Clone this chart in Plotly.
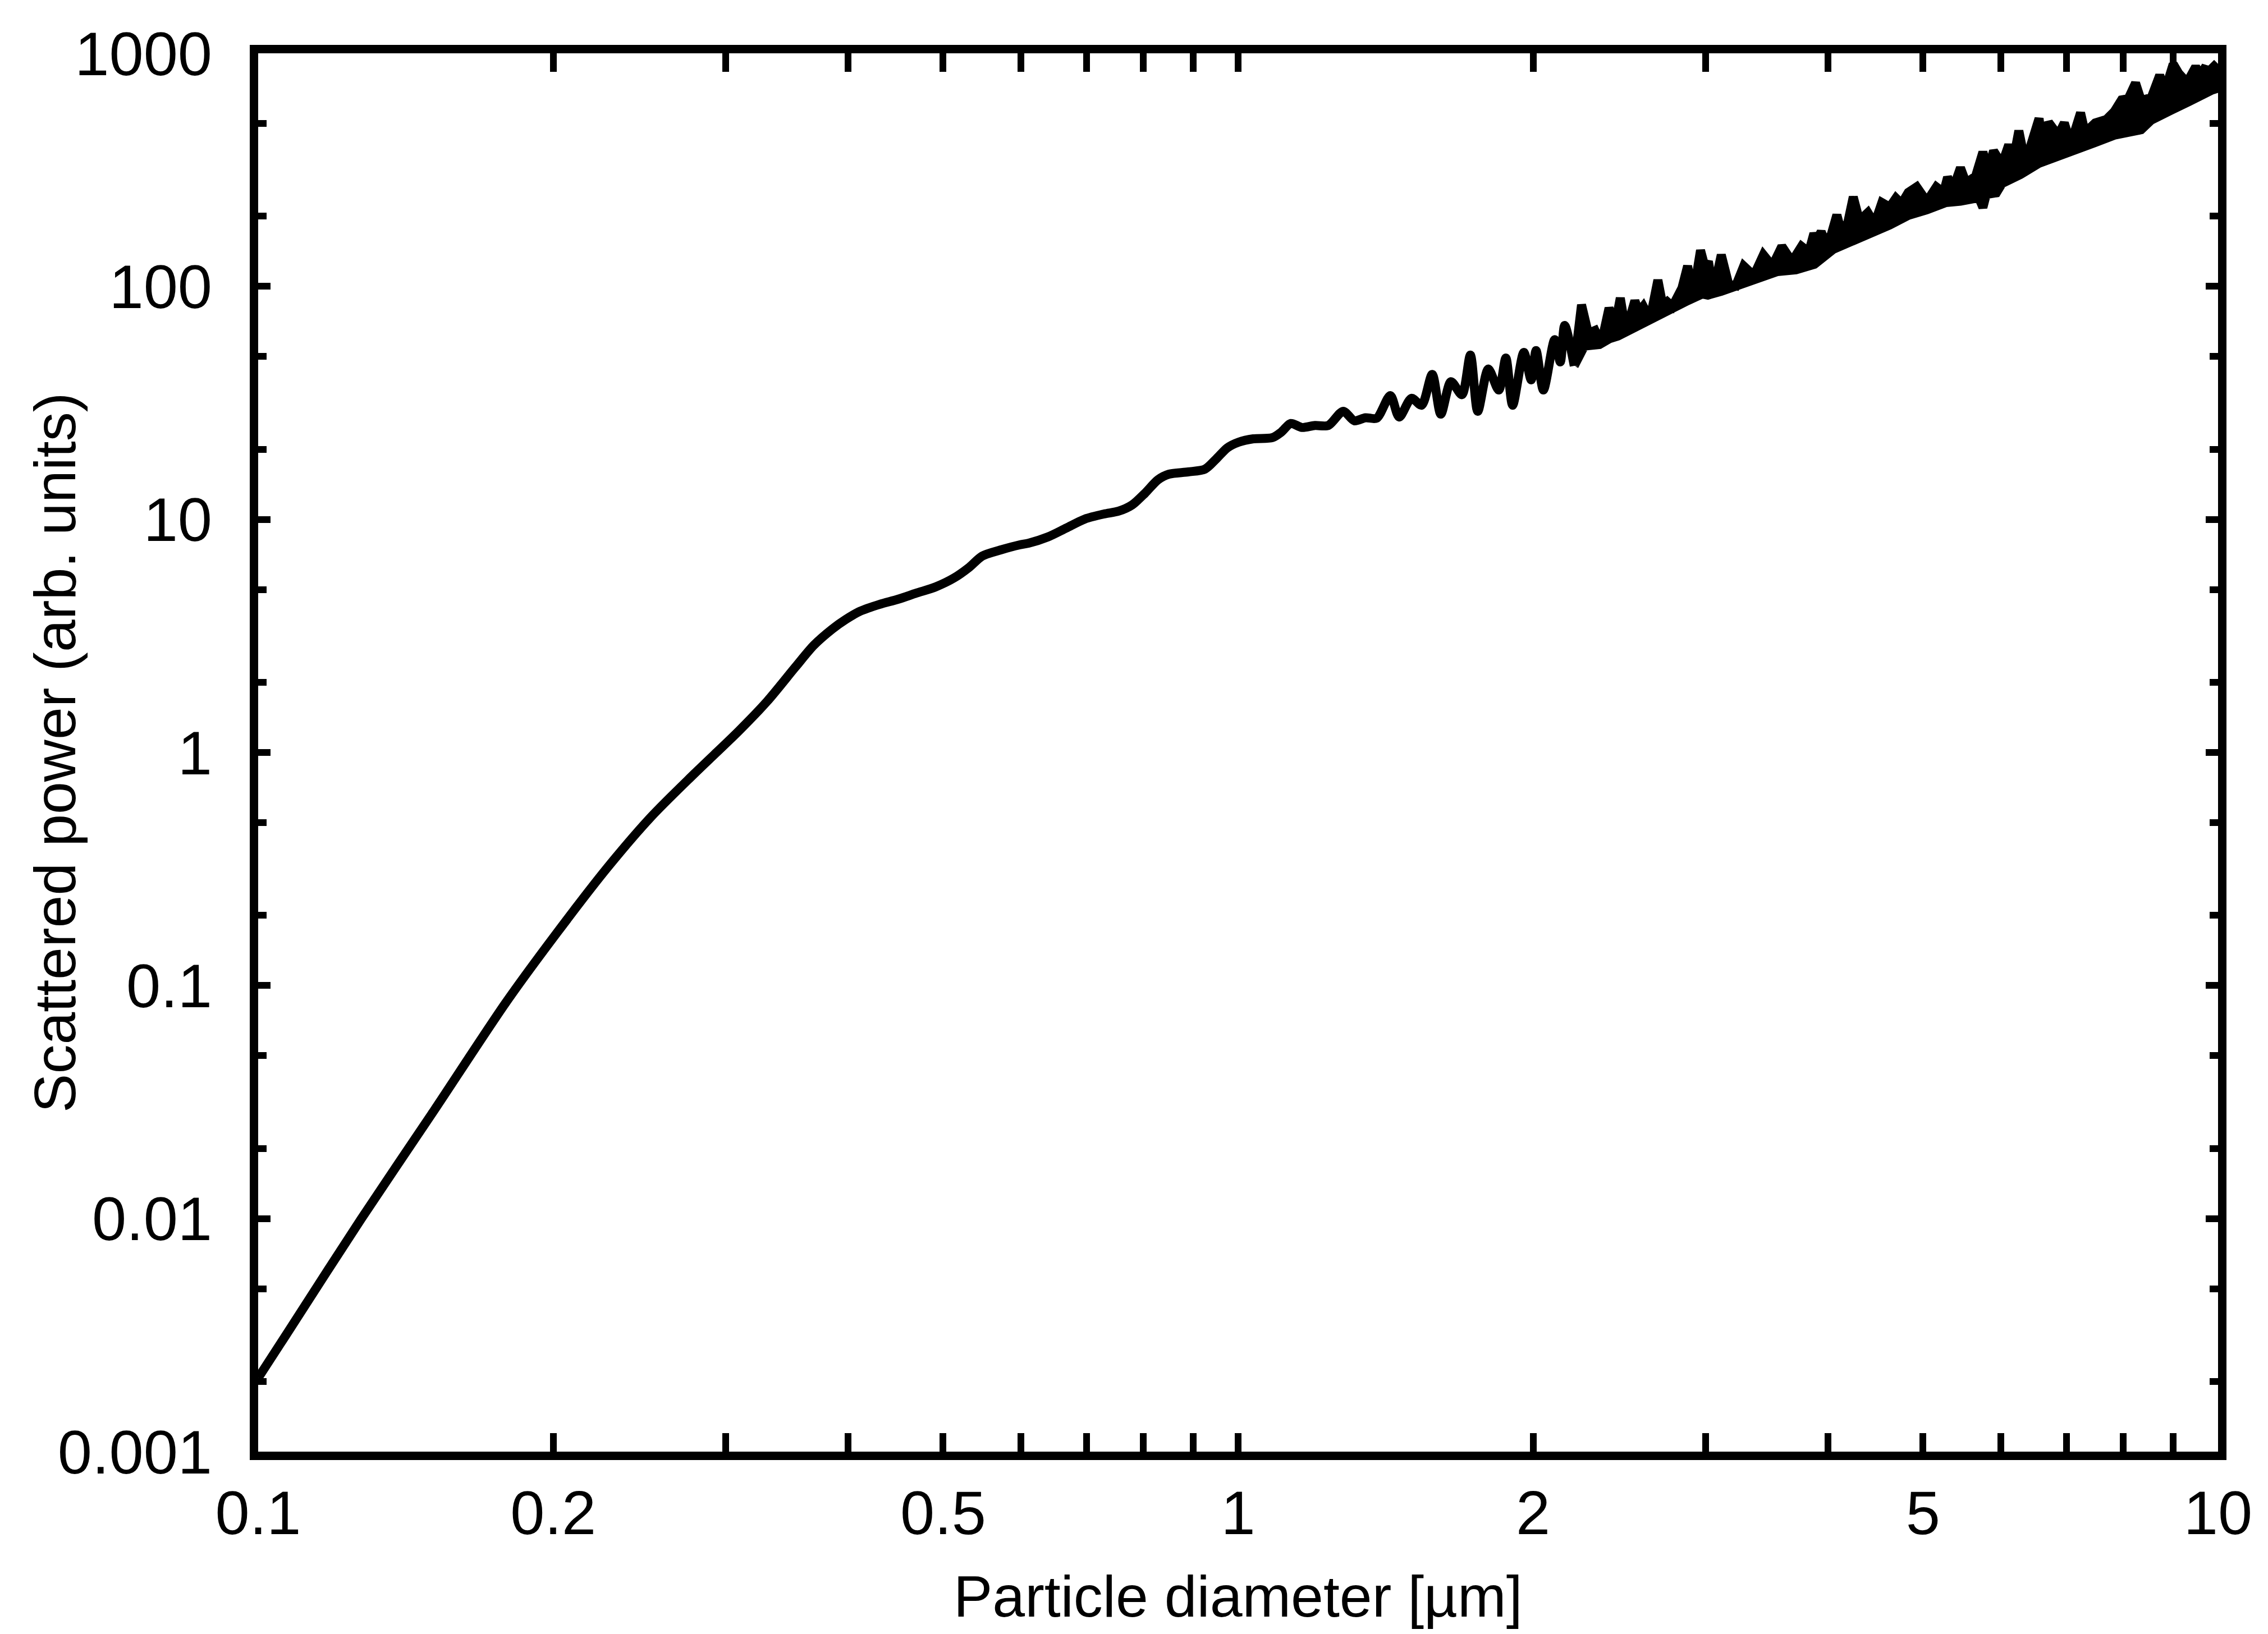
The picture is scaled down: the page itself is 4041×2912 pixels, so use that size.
import plotly.graph_objects as go

# ---- main curve, diameter in µm, power in arb. units
diameter = [0.1, 0.1075, 0.1274, 0.1511, 0.1791, 0.2017, 0.2271, 0.2517, 0.2786,
            0.3096, 0.3306, 0.3533, 0.3690, 0.3854, 0.3977, 0.4117, 0.4306, 0.4496,
            0.4696, 0.4912, 0.5131, 0.5317, 0.5481, 0.5725, 0.5986, 0.6113, 0.6393,
            0.6679, 0.6977, 0.7296, 0.7551, 0.7793, 0.8035, 0.8284, 0.8502, 0.8892,
            0.9252, 0.9498, 0.9752, 1.0013, 1.0363, 1.0838, 1.1068, 1.1318, 1.162,
            1.198, 1.236, 1.280, 1.314, 1.349, 1.385, 1.430, 1.460, 1.503, 1.539,
            1.578, 1.610, 1.649, 1.692, 1.726, 1.756, 1.800, 1.845, 1.876, 1.906,
            1.957, 1.991, 2.014, 2.049, 2.104, 2.132, 2.154, 2.203]
power = [0.00207, 0.00331, 0.00998, 0.0290, 0.0849, 0.168, 0.320, 0.529, 0.81,
         1.241, 1.656, 2.323, 2.884, 3.386, 3.721, 4.043, 4.321, 4.543,
         4.829, 5.132, 5.609, 6.231, 6.961, 7.399, 7.779, 7.909, 8.406,
         9.187, 10.04, 10.55, 10.85, 11.53, 12.96, 14.80, 15.64, 15.99,
         16.44, 18.17, 20.30, 21.46, 22.18, 22.43, 23.70, 25.8, 24.8,
         25.3, 25.3, 29.1, 26.5, 27.3, 27.2, 34.0, 27.5, 33.1, 30.9,
         41.9, 28.3, 39.0, 34.3, 50.7, 29.1, 44.2, 35.9, 49.3, 30.9,
         52.1, 39.7, 53.0, 35.9, 59.1, 47.4, 68.0, 45.6]

# ---- dense ripple region: upper envelope (with spikes) and lower envelope
upper_d = [2.2029, 2.2410, 2.2768, 2.3132, 2.3470, 2.3907, 2.4257, 2.4547, 2.4872,
           2.5402, 2.5638, 2.5910, 2.6324, 2.6814, 2.7134, 2.7422, 2.7749, 2.8378,
           2.8755, 2.9136, 2.9640, 2.9954, 3.0192, 3.0553, 3.1121, 3.1659, 3.2206,
           3.2807, 3.3595, 3.4357, 3.5089, 3.5884, 3.6745, 3.7578, 3.8228, 3.8685,
           3.8940, 3.9353, 3.9770, 4.0298, 4.0833, 4.1211, 4.1879, 4.2437, 4.3056,
           4.3916, 4.4617, 4.5389, 4.6235, 4.6910, 4.7532, 4.8292, 4.9257, 5.0441,
           5.1584, 5.2476, 5.2963, 5.3665, 5.4594, 5.5318, 5.6571, 5.7550, 5.8236,
           5.9010, 6.0189, 6.1150, 6.1799, 6.2619, 6.3283, 6.4293, 6.5665, 6.6273,
           6.7152, 6.8675, 6.9677, 7.0508, 7.1445, 7.2394, 7.3161, 7.4918, 7.6918,
           7.8351, 7.9707, 8.0979, 8.2380, 8.3472, 8.5478, 8.7189, 8.8231, 9.0000,
           9.1195, 9.2529, 9.3389, 9.4878, 9.5885, 9.6774, 9.8043, 9.9083, 10.0]
upper_p = [45.6, 83.4, 62.9, 64.7, 56.6, 80.7, 68.3, 89.2, 63.9,
           86.8, 77.6, 82.1, 72.2, 106.5, 82.1, 85.8, 82.1, 98.5,
           122.3, 91.7, 142.8, 120.9, 127.9, 95.3, 136.6, 102.4, 100.7,
           122.3, 111.3, 136.6, 122.3, 148.5, 127.9, 148.5, 140.5, 168.7,
           157.8, 171.5, 153.5, 166.9, 202.6, 175.4, 186.4, 241.9, 191.6,
           207.2, 185.4, 228.8, 218.9, 239.2, 226.3, 252.9, 267.3, 231.4,
           267.3, 252.9, 293.8, 262.9, 322.8, 277.8, 297.0, 376.9, 315.7,
           381.1, 333.7, 405.0, 346.9, 465.4, 372.8, 394.0, 525.6, 387.5,
           505.6, 445.1, 502.8, 428.2, 465.4, 555.6, 457.6, 502.8, 519.8,
           561.8, 631.2, 638.3, 745.5, 627.7, 645.4, 805.6, 686.0, 900.1,
           819.1, 766.3, 774.8, 875.4, 805.6, 856.2, 842.1, 880.3, 846.8]
lower_d = [2.2029, 2.2558, 2.3377, 2.3907, 2.4418, 2.4971, 2.5740, 2.6082, 2.7278,
           2.8006, 2.8755, 2.9757, 3.0152, 3.1121, 3.2206, 3.3952, 3.5508, 3.7086,
           3.8736, 4.0511, 4.2325, 4.4207, 4.6235, 4.8292, 5.0441, 5.2753, 5.4594,
           5.70, 5.7550, 5.80, 5.9401, 6.0189, 6.2867, 6.5665, 6.8675, 7.1728,
           7.4918, 7.8351, 8.0447, 8.3472, 8.5478, 8.9408, 9.3389, 9.7526, 9.8431, 10.0]
lower_p = [45.6, 55.4, 56.3, 59.5, 61.2, 63.9, 67.6, 69.1, 77.2,
           82.1, 86.8, 92.7, 91.7, 95.3, 99.6, 107.7, 115.7, 117.7,
           124.4, 144.4, 157.0, 167.8, 183.4, 201.5, 212.9, 228.8, 232.0,
           240.0, 218.0, 248.0, 252.0, 276.3, 301.9, 337.4, 364.6, 385.3,
           414.1, 445.1, 452.0, 470.0, 516.9, 568.2, 620.8, 682.2, 693.6, 709.2]

# ---- ticks
x_tick_vals = [0.1, 0.2, 0.5, 1, 2, 5, 10]
x_tick_text = ["0.1", "0.2", "0.5", "1", "2", "5", "10"]
x_minor_vals = [0.3, 0.4, 0.6, 0.7, 0.8, 0.9, 3, 4, 6, 7, 8, 9]
y_tick_vals = [0.001, 0.01, 0.1, 1, 10, 100, 1000]
y_tick_text = ["0.001", "0.01", "0.1", "1", "10", "100", "1000"]
y_minor_vals = [0.002, 0.005, 0.02, 0.05, 0.2, 0.5, 2, 5, 20, 50, 200, 500]

FONT = "Liberation Sans, Arial, Helvetica, sans-serif"
LW = 16

fig = go.Figure()
fig.add_trace(go.Scatter(
    x=upper_d + lower_d[::-1], y=upper_p + lower_p[::-1],
    mode="lines", fill="toself", fillcolor="black",
    line=dict(color="black", width=LW), hoverinfo="skip", showlegend=False))
fig.add_trace(go.Scatter(
    x=diameter, y=power, mode="lines",
    line=dict(color="black", width=LW, shape="spline", smoothing=0.8),
    showlegend=False))

fig.update_layout(
    width=4041, height=2912, autosize=False,
    margin=dict(l=460, r=89, t=95, b=325),
    paper_bgcolor="white", plot_bgcolor="white",
    font=dict(family=FONT, size=110, color="black"),
    showlegend=False,
)
fig.update_xaxes(
    type="log", range=[-1, 1],
    tickvals=x_tick_vals, ticktext=x_tick_text,
    ticks="inside", ticklen=33, tickwidth=12, tickcolor="black",
    minor=dict(tickvals=x_minor_vals, ticks="inside", ticklen=33, tickwidth=12, tickcolor="black"),
    showline=True, linewidth=15, linecolor="black", mirror="allticks",
    showgrid=False, zeroline=False,
    tickfont=dict(family=FONT, size=110, color="black"),
    ticklabelstandoff=0,
)
fig.update_yaxes(
    type="log", range=[-3, 3],
    tickvals=y_tick_vals, ticktext=y_tick_text,
    ticks="inside", ticklen=22, tickwidth=12, tickcolor="black",
    minor=dict(tickvals=y_minor_vals, ticks="inside", ticklen=15, tickwidth=12, tickcolor="black"),
    showline=True, linewidth=15, linecolor="black", mirror="allticks",
    showgrid=False, zeroline=False,
    tickfont=dict(family=FONT, size=110, color="black"),
    ticklabelstandoff=45,
)
fig.add_annotation(
    text="Particle diameter [µm]", xref="paper", yref="paper",
    x=0.5, y=-0.1035, xanchor="center", yanchor="middle", showarrow=False,
    font=dict(family=FONT, size=104, color="black"))
fig.add_annotation(
    text="Scattered power (arb. units)", xref="paper", yref="paper",
    x=-0.1037, y=0.5, xanchor="center", yanchor="middle", showarrow=False,
    textangle=-90, font=dict(family=FONT, size=104, color="black"))

fig.write_html("out.html")
